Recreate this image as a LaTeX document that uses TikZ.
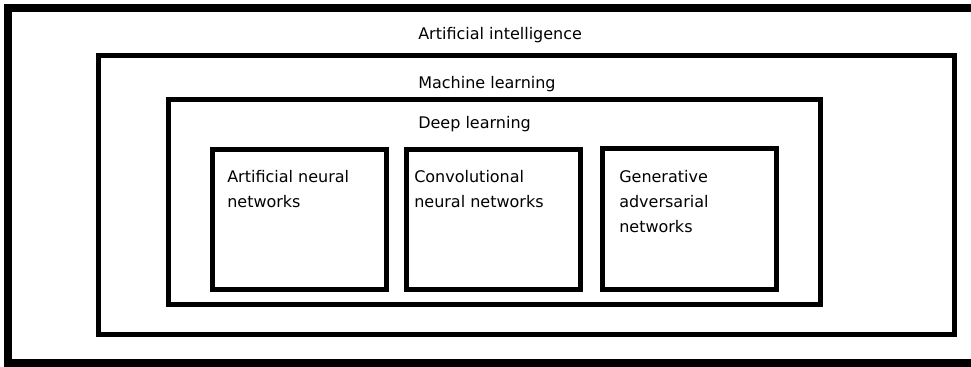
\documentclass[tikz,border=0pt]{standalone}
\usepackage{fontspec}
\setmainfont{DejaVu Sans}
\begin{document}
\begin{tikzpicture}[x=0.75pt,y=-0.75pt,
    caption/.style={anchor=base west,inner sep=0pt,align=left,
      font=\fontsize{12}{18.75}\selectfont},
    frame/.style={line width=3.75pt}]
  \useasboundingbox (0,0) rectangle (971,367);
  \clip (0,0) rectangle (971,367);
  % outermost frame runs past the right edge
  \draw[line width=6pt] (8,8) rectangle (1000,363);
  \draw[frame] (98,56) rectangle (954,334);
  \draw[frame] (168,100) rectangle (820,304);
  % the three network boxes
  \draw[frame] (212,150) rectangle (386,289);
  \draw[frame] (406,150) rectangle (580,289);
  \draw[frame] (602,149) rectangle (776,289);
  \node[caption] (ai) at (418,40) {Artificial intelligence};
  \node[caption] (ml) at (418,89) {Machine learning};
  \node[caption] (dl) at (418,129) {Deep learning};
  % multi-line captions sit on their last baseline
  \node[caption] (ann) at (227,208) {Artificial neural\\networks};
  \node[caption] (cnn) at (414,208) {Convolutional\\neural networks};
  \node[caption] (gan) at (619,233) {Generative\\adversarial\\networks};
\end{tikzpicture}
\end{document}
